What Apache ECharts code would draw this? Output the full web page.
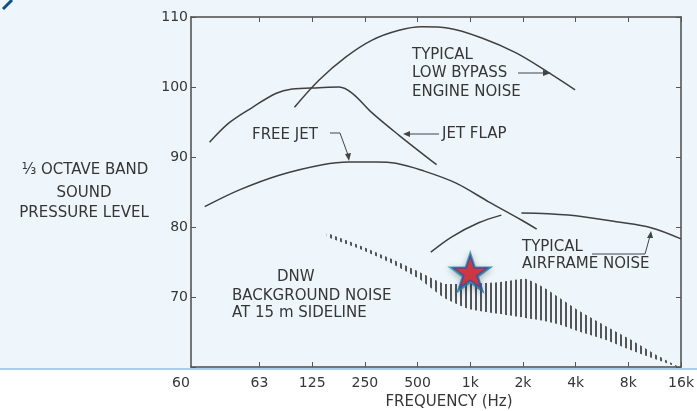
<!DOCTYPE html>
<html>
<head>
<meta charset="utf-8">
<script src="https://cdn.jsdelivr.net/npm/echarts@6/dist/echarts.min.js"></script>
<style>
html,body{margin:0;padding:0;background:#fff;}
#c{width:697px;height:411px;}
</style>
</head>
<body>
<div id="c"></div>
<script>
// ---- data (frequency in Hz, level in dB) ----
const freqTickLabels = ['63','125','250','500','1k','2k','4k','8k','16k'];
const yTickValues = [60, 70, 80, 90, 100, 110];

const engineFreq = [99, 137, 195, 275, 392, 528, 753, 1165, 1815, 2790, 3972];
const engineDb   = [97.1, 101.0, 104.3, 106.7, 108.1, 108.6, 108.4, 107.0, 104.9, 102.1, 99.6];

const jetFlapFreq = [32.4, 42, 57, 78, 96, 137, 178, 212, 275, 392, 642];
const jetFlapDb   = [92.1, 94.9, 97.1, 99.1, 99.7, 99.9, 100.0, 99.1, 96.3, 93.1, 88.9];

const freeJetFreq = [30.4, 48, 81, 143, 203, 289, 376, 528, 824, 1274, 1959, 2395];
const freeJetDb   = [82.9, 85.3, 87.4, 88.9, 89.3, 89.3, 89.1, 88.1, 86.3, 83.6, 81.0, 79.7];

const airframeFreq = [595, 785, 1117, 1505, 1700, 1959, 3630, 7013, 10777, 16000];
const airframeDb   = [76.4, 78.6, 80.6, 81.7, null, 82.0, 81.7, 80.7, 79.9, 78.3];

const dnwFreq  = [152, 232, 343, 509, 706, 979, 1451, 2067, 2618, 3184, 4139, 5897, 8288, 11800, 15340];
const dnwUpper = [79.1, 77.4, 75.6, 73.6, 71.9, 71.9, 72.1, 72.6, 71.4, 70.0, 68.1, 65.9, 63.9, 61.6, 60.1];
const dnwLower = [78.6, 76.9, 75.0, 72.6, 69.9, 68.3, 67.6, 67.0, 66.6, 66.1, 65.1, 63.9, 62.4, 61.0, 60.0];

const starFreq = 1000;
const starDb = 73.6;

// ---- helpers ----
const toX = f => Math.log2(f / 62.5);
const pairs = (fs, vs) => fs.map((f, i) => [toX(f), vs[i] == null ? '-' : vs[i]]);
const tickPos = freqTickLabels.map((_, i) => i);

const FONT = 'DejaVu Sans';
const INK = '#363636';
const LINE = '#404040';

// hatch pattern for background-noise band
const pat = document.createElement('canvas');
pat.width = 5; pat.height = 4;
const pctx = pat.getContext('2d');
pctx.fillStyle = 'rgba(45,45,45,0.8)';
pctx.fillRect(0, 0, 2, 4);

const starPath = 'path://M50 0L61.23 34.55L97.55 34.55L68.17 55.9L79.39 90.45L50 69.1L20.61 90.45L31.83 55.9L2.45 34.55L38.77 34.55Z';

function curve(name, fs, vs) {
  return {
    name, type: 'line', smooth: 0.35, showSymbol: false, silent: true,
    connectNulls: false,
    data: pairs(fs, vs),
    lineStyle: { color: LINE, width: 1.5 },
    z: 3
  };
}

function txt(text, x, y, align, size) {
  return {
    type: 'text', x, y, z: 20, silent: true,
    style: { text, font: (size || 15) + 'px "' + FONT + '"', fill: INK, align: align || 'left', verticalAlign: 'middle' }
  };
}
function pl(points) {
  return { type: 'polyline', z: 20, silent: true, shape: { points }, style: { stroke: '#444', lineWidth: 1, fill: null } };
}
function tri(points) {
  return { type: 'polygon', z: 20, silent: true, shape: { points }, style: { fill: '#444' } };
}

const axisLineStyle = { color: '#4a4a4a', width: 1.5 };
const tickStyle = { color: '#555', width: 1 };

const option = {
  animation: false,
  backgroundColor: '#ffffff',
  grid: { left: 191, top: 17, width: 492, height: 350 },
  xAxis: [
    {
      type: 'value', min: -1.3, max: 8, position: 'bottom',
      axisLine: { show: true, onZero: false, lineStyle: axisLineStyle },
      axisTick: { show: true, inside: true, length: 5, customValues: tickPos, lineStyle: tickStyle },
      axisLabel: { customValues: tickPos, formatter: v => freqTickLabels[Math.round(v)] || '',
        margin: 9, color: INK, fontFamily: FONT, fontSize: 14 },
      splitLine: { show: false }
    },
    {
      type: 'value', min: -1.3, max: 8, position: 'top',
      axisLine: { show: true, onZero: false, lineStyle: axisLineStyle },
      axisTick: { show: true, inside: true, length: 5, customValues: tickPos, lineStyle: tickStyle },
      axisLabel: { show: false },
      splitLine: { show: false }
    }
  ],
  yAxis: [
    {
      type: 'value', min: 60, max: 110, interval: 10, position: 'left',
      axisLine: { show: true, onZero: false, lineStyle: axisLineStyle },
      axisTick: { show: true, inside: true, length: 5, lineStyle: tickStyle },
      axisLabel: { formatter: v => (v === yTickValues[0] ? '' : String(v)), margin: 3,
        color: INK, fontFamily: FONT, fontSize: 14 },
      splitLine: { show: false }
    },
    {
      type: 'value', min: 60, max: 110, interval: 10, position: 'right',
      axisLine: { show: true, onZero: false, lineStyle: axisLineStyle },
      axisTick: { show: true, inside: true, length: 5, lineStyle: tickStyle },
      axisLabel: { show: false },
      splitLine: { show: false }
    }
  ],
  series: [
    curve('Typical low bypass engine noise', engineFreq, engineDb),
    curve('Jet flap', jetFlapFreq, jetFlapDb),
    curve('Free jet', freeJetFreq, freeJetDb),
    curve('Typical airframe noise', airframeFreq, airframeDb),
    {
      name: 'DNW background noise', type: 'custom', silent: true, z: 2,
      data: dnwFreq.map((f, i) => [toX(f), dnwUpper[i], dnwLower[i]]),
      encode: { x: 0, y: [1, 2] },
      renderItem: function (params, api) {
        if (params.dataIndex !== 0) return null;
        const up = dnwFreq.map((f, i) => api.coord([toX(f), dnwUpper[i]]));
        const lo = dnwFreq.map((f, i) => api.coord([toX(f), dnwLower[i]])).reverse();
        return {
          type: 'polygon',
          shape: { points: up.concat(lo), smooth: 0.15 },
          style: { fill: { image: pat, repeat: 'repeat' }, stroke: null }
        };
      }
    },
    {
      type: 'scatter', silent: true, symbol: starPath, symbolSize: [46, 44],
      data: [[toX(starFreq), starDb]],
      itemStyle: {
        color: { type: 'linear', x: 0, y: 0, x2: 1, y2: 1, colorStops: [
          { offset: 0, color: '#2db0b0' }, { offset: 1, color: '#1b5d96' } ] },
        shadowBlur: 6, shadowColor: 'rgba(0,0,0,0.35)', shadowOffsetY: 2
      },
      z: 10
    },
    {
      type: 'scatter', silent: true, symbol: starPath, symbolSize: [34, 32],
      data: [[toX(starFreq), starDb]],
      itemStyle: { color: '#f0202a', borderColor: '#3d4a9e', borderWidth: 1.5 },
      z: 11
    }
  ],
  graphic: [
    { type: 'rect', z: -10, silent: true, shape: { x: 0, y: 0, width: 697, height: 369 }, style: { fill: '#eef6fb' } },
    { type: 'line', z: -9, silent: true, shape: { x1: 0, y1: 369, x2: 697, y2: 369 }, style: { stroke: '#a8cde6', lineWidth: 2 } },
    { type: 'line', z: 20, silent: true, shape: { x1: 3, y1: 9, x2: 12, y2: 0 }, style: { stroke: '#0d4f8b', lineWidth: 3 } },

    txt('⅓ OCTAVE BAND', 85, 170, 'center'),
    txt('SOUND', 84, 193, 'center'),
    txt('PRESSURE LEVEL', 84, 213, 'center'),
    txt(String(yTickValues[0]), 181, 383, 'center', 14),
    txt('FREQUENCY (Hz)', 449, 402, 'center'),

    txt('TYPICAL', 412, 55), txt('LOW BYPASS', 412, 73), txt('ENGINE NOISE', 412, 92),
    pl([[518, 73], [546, 73]]), tri([[551, 73], [543, 70], [543, 76]]),

    txt('FREE JET', 252, 135),
    pl([[330, 133], [340, 133], [348, 155]]), tri([[349, 161], [345, 154], [351, 153]]),

    txt('JET FLAP', 442, 134),
    pl([[439, 134], [408, 134]]), tri([[403, 134], [410, 131], [410, 137]]),

    txt('DNW', 277, 277), txt('BACKGROUND NOISE', 232, 296), txt('AT 15 m SIDELINE', 232, 313),

    txt('TYPICAL', 522, 247), txt('AIRFRAME NOISE', 522, 264),
    pl([[592, 254], [645, 254], [650, 236]]), tri([[651, 231], [647, 238], [653, 238]])
  ]
};

const chart = echarts.init(document.getElementById('c'), null, { renderer: 'canvas' });
chart.setOption(option);
</script>
</body>
</html>
